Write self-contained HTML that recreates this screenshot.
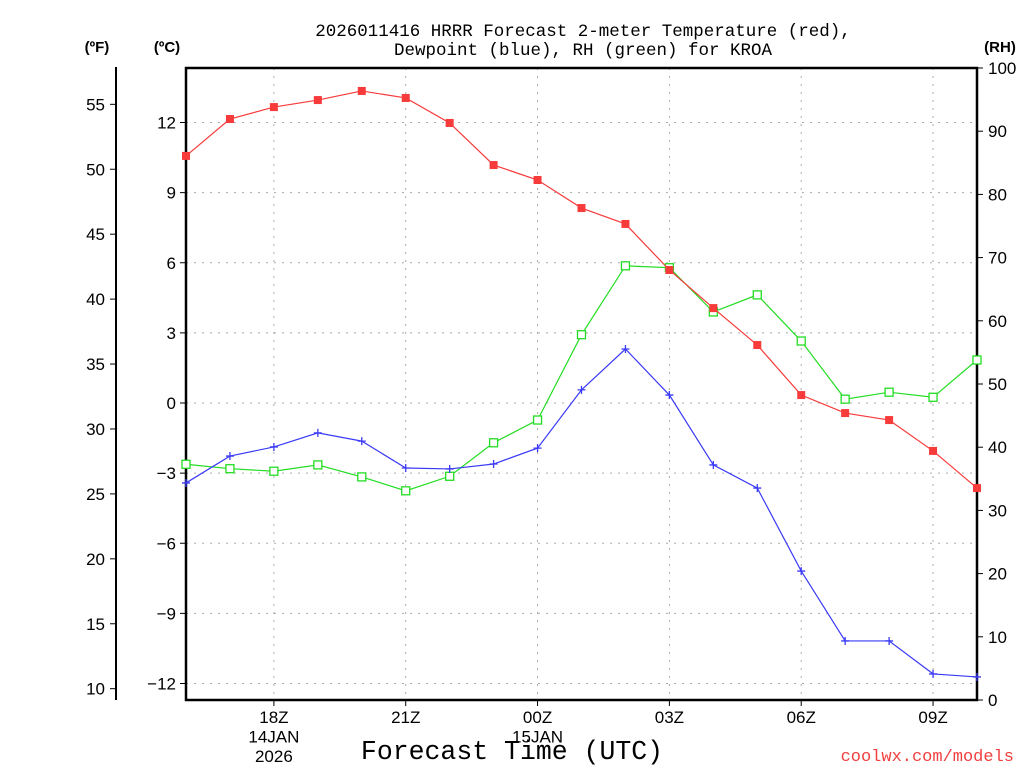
<!DOCTYPE html>
<html><head><meta charset="utf-8"><style>
body{margin:0;background:#fff;width:1024px;height:768px;overflow:hidden}
svg text{font-family:"Liberation Sans",sans-serif;fill:#000}
svg text.mono{font-family:"Liberation Mono",monospace}
</style></head><body>
<svg id="chart" width="1024" height="768" xmlns="http://www.w3.org/2000/svg">
<text class="mono" x="583" y="36" font-size="17.5" text-anchor="middle">2026011416 HRRR Forecast 2-meter Temperature (red),</text>
<text class="mono" x="583" y="55" font-size="17.5" text-anchor="middle">Dewpoint (blue), RH (green) for KROA</text>
<text x="97" y="52" font-size="15" font-weight="bold" text-anchor="middle">(ºF)</text>
<text x="167" y="52" font-size="15" font-weight="bold" text-anchor="middle">(ºC)</text>
<text x="1000" y="52" font-size="15" font-weight="bold" text-anchor="middle">(RH)</text>
<text class="mono" x="512" y="759" font-size="26.5" text-anchor="middle">Forecast Time (UTC)</text>
<text class="mono" x="1014" y="761" font-size="17" style="fill:#f04040" text-anchor="end">coolwx.com/models</text>
<g id="grid"></g><g id="axes"></g><g id="series"></g>
</svg>
<script>
const hours=["16Z","17Z","18Z","19Z","20Z","21Z","22Z","23Z","00Z","01Z","02Z","03Z","04Z","05Z","06Z","07Z","08Z","09Z","10Z"];
const tempC=[10.57,12.15,12.66,12.96,13.35,13.05,11.98,10.18,9.54,8.34,7.66,5.69,4.06,2.48,0.34,-0.43,-0.73,-2.05,-3.64];
const dewC=[-3.42,-2.27,-1.88,-1.28,-1.63,-2.78,-2.82,-2.61,-1.93,0.56,2.31,0.34,-2.65,-3.64,-7.19,-10.18,-10.18,-11.59,-11.72];
const rh=[37.3,36.6,36.2,37.2,35.3,33.1,35.4,40.7,44.3,57.8,68.7,68.4,61.4,64.1,56.8,47.6,48.7,47.9,53.8];
const cTicks=[12,9,6,3,0,-3,-6,-9,-12];
const fTicks=[55,50,45,40,35,30,25,20,15,10];
const rhTicks=[0,10,20,30,40,50,60,70,80,90,100];
const xLabels=[[2,"18Z","14JAN","2026"],[5,"21Z"],[8,"00Z","15JAN"],[11,"03Z"],[14,"06Z"],[17,"09Z"]];
const L=186,R=977,T=68,B=700;
const x=i=>L+i*(R-L)/(hours.length-1);
const yC=c=>403-c*23.375;
const yF=f=>yC((f-32)/1.8);
const yRH=r=>B-r*(B-T)/100;
const NS="http://www.w3.org/2000/svg";
function mk(tag,attrs,parent,txt){const e=document.createElementNS(NS,tag);for(const k in attrs)e.setAttribute(k,attrs[k]);if(txt!==undefined)e.textContent=txt;document.getElementById(parent).appendChild(e);return e;}
cTicks.forEach(c=>{const e=mk('line',{x1:L,x2:R,y1:yC(c),y2:yC(c),stroke:'#aaa','stroke-dasharray':'2 6'},'grid');

});
xLabels.forEach(l=>{const e=mk('line',{x1:x(l[0]),x2:x(l[0]),y1:T,y2:B,stroke:'#aaa','stroke-dasharray':'2 6'},'grid');

});
let e=mk('rect',{x:L,y:T,width:R-L,height:B-T,fill:'none',stroke:'#000','stroke-width':2.5},'axes');


e=mk('line',{x1:116,x2:116,y1:67,y2:700,stroke:'#000','stroke-width':2},'axes');


cTicks.forEach(c=>{mk('line',{x1:L-6,x2:L,y1:yC(c),y2:yC(c),stroke:'#000'},'axes');
const t=mk('text',{x:L-10,y:yC(c)+6,'font-size':17,'text-anchor':'end'},'axes',c<0?'\u2212'+(-c):String(c));

});
fTicks.forEach(f=>{mk('line',{x1:110,x2:116,y1:yF(f),y2:yF(f),stroke:'#000'},'axes');
const t=mk('text',{x:105,y:yF(f)+6,'font-size':17,'text-anchor':'end'},'axes',String(f));

});
rhTicks.forEach(r=>{mk('line',{x1:R,x2:R+6,y1:yRH(r),y2:yRH(r),stroke:'#000'},'axes');
const t=mk('text',{x:988,y:yRH(r)+6,'font-size':17},'axes',String(r));

});
xLabels.forEach(l=>{mk('line',{x1:x(l[0]),x2:x(l[0]),y1:B,y2:B+6,stroke:'#000'},'axes');
l.slice(1).forEach((s,k)=>{const t=mk('text',{x:x(l[0]),y:723+k*19.5,'font-size':17,'text-anchor':'middle'},'axes',s);

});});
function series(vals,yf,color,marker,name){
const pts=vals.map((v,i)=>x(i)+','+yf(v)).join(' ');
const p=mk('polyline',{points:pts,fill:'none',stroke:color,'stroke-width':1.2},'series');


vals.forEach((v,i)=>{const cx=x(i),cy=yf(v);let m;
if(marker==='fill')m=mk('rect',{x:cx-4,y:cy-4,width:8,height:8,fill:color},'series');
else if(marker==='open')m=mk('rect',{x:cx-4,y:cy-4,width:8,height:8,fill:'#fff',stroke:color,'stroke-width':1.3},'series');
else m=mk('path',{d:`M${cx-4} ${cy}H${cx+4}M${cx} ${cy-4}V${cy+4}`,stroke:color,'stroke-width':1.3},'series');

});}
series(rh,yRH,'#22dd22','open','rh');
series(tempC,yC,'#f73a3a','fill','temperature');
series(dewC,yC,'#3a3af7','plus','dewpoint');
</script>
</body></html>
